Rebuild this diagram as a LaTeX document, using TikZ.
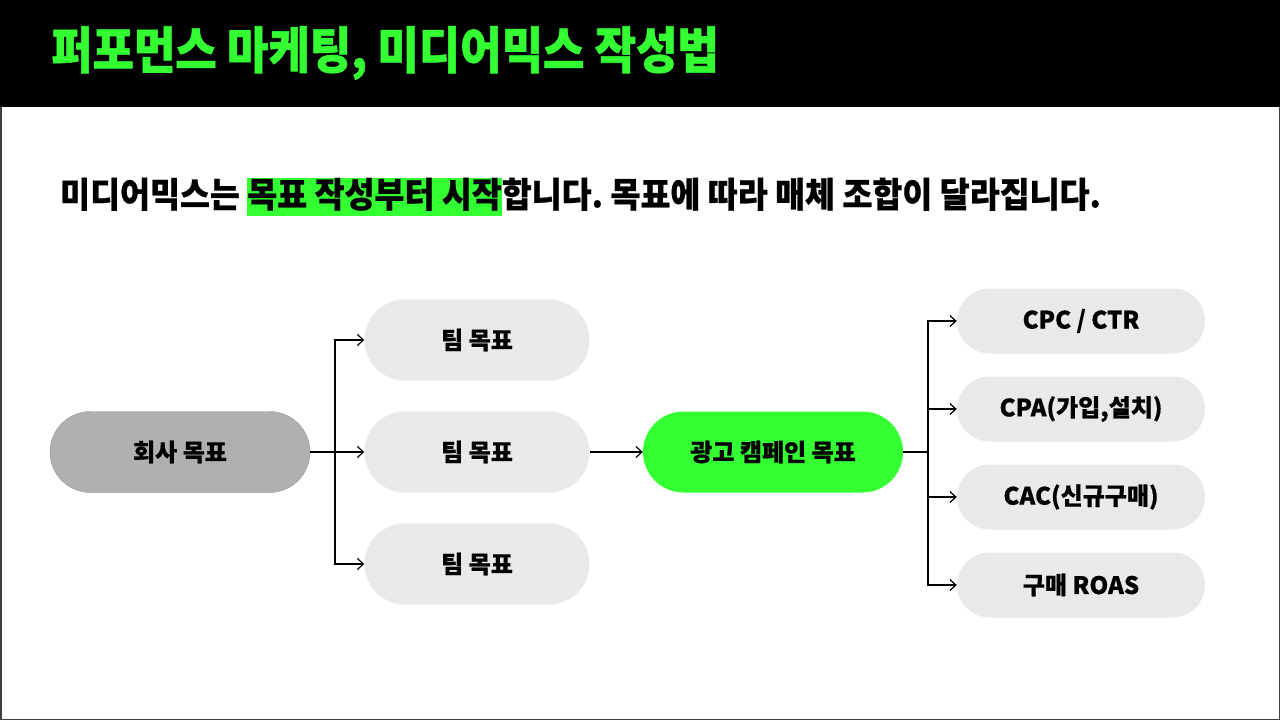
\documentclass[tikz,border=0pt]{standalone}
\usepackage{fontspec}
\setmainfont{Noto Sans CJK KR}
\newfontfamily\krbold{Noto Sans CJK KR Black}[FakeBold=0.6]
\newfontfamily\krblack{Noto Sans CJK KR Black}[FakeBold=1.2]
\usetikzlibrary{arrows.meta,shapes.misc}
\definecolor{neon}{HTML}{33FF33}
\definecolor{pillgray}{HTML}{E9E9E9}
\definecolor{darkpill}{HTML}{B0B0B0}
\tikzset{
  pill/.style={rounded rectangle, fill=pillgray, minimum width=225pt, minimum height=81pt, font=\krbold\fontsize{24}{29}\selectfont, text=black, inner sep=0pt},
  smallpill/.style={pill, minimum width=248pt, minimum height=65pt},
  conn/.style={draw=black, line width=1.2pt},
  arr/.style={conn, -{Straight Barb[length=6pt, width=11pt, line width=1.2pt]}},
}
\begin{document}
\begin{tikzpicture}[x=1pt, y=-1pt]
\useasboundingbox (0,0) rectangle (1280,720);
\fill[white] (0,0) rectangle (1280,720);
\draw[line width=1.5pt, black!75] (0.75,0.75) rectangle (1279.25,719.25);
\fill[black] (0,0) rectangle (1280,107);
\node[anchor=west, inner sep=0pt, text=neon, font=\krblack\fontsize{50}{56}\selectfont] (title) at (51,53) {\scalebox{0.9}[1]{퍼포먼스 마케팅, 미디어믹스 작성법}};
\node[anchor=west, inner sep=0pt, font=\krbold\fontsize{35}{40}\selectfont] (lead) at (60,197) {\frenchspacing\scalebox{0.93}[1]{미디어믹스는 {\setlength{\fboxsep}{0pt}\colorbox{neon}{\rule[-9pt]{0pt}{38pt}목표 작성부터 시작}}합니다. 목표에 따라 매체 조합이 달라집니다.}};
\node[pill, fill=darkpill, draw=darkpill!85!black, line width=0.4pt, minimum width=260pt] (company) at (180,452) {회사 목표};
\node[pill] (t1) at (477,340) {팀 목표};
\node[pill] (t2) at (477,452) {팀 목표};
\node[pill] (t3) at (477,564) {팀 목표};
\node[pill, fill=neon, minimum width=260pt] (ad) at (773,452) {광고 캠페인 목표};
\node[smallpill] (m1) at (1081,321) {CPC / CTR};
\node[smallpill] (m2) at (1081,409) {CPA(가입,설치)};
\node[smallpill] (m3) at (1081,497) {CAC(신규구매)};
\node[smallpill] (m4) at (1081,585) {구매 ROAS};
\coordinate (lj) at (335,452);
\coordinate (rj) at (928,452);
\draw[conn] (company.east) -- (lj);
\draw[arr] (lj) |- (t1.west);
\draw[arr] (lj) -- (t2.west);
\draw[arr] (lj) |- (t3.west);
\draw[arr] (t2.east) -- (ad.west);
\draw[conn] (ad.east) -- (rj);
\draw[arr] (rj) |- (m1.west);
\draw[arr] (rj) |- (m2.west);
\draw[arr] (rj) |- (m3.west);
\draw[arr] (rj) |- (m4.west);
\end{tikzpicture}
\end{document}
